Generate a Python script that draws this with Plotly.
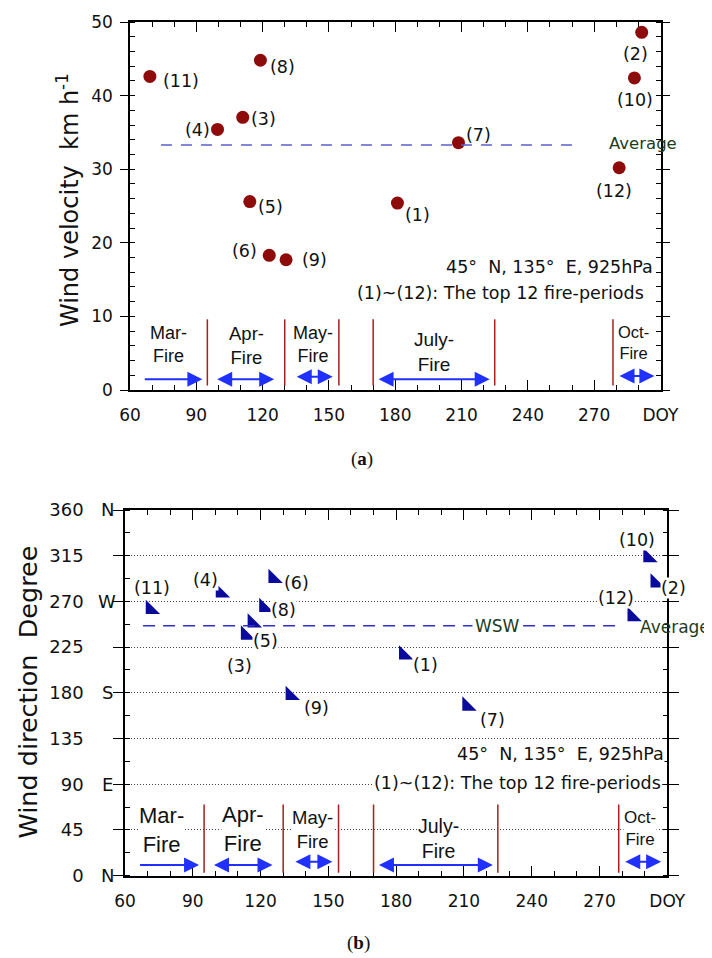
import plotly.graph_objects as go

# page is 712x958; the browser body has an 8px margin, so the figure starts at (8, 8)
PAGE_W, PAGE_H = 712, 958
OFFSET = 8
W, H = PAGE_W - OFFSET, PAGE_H - OFFSET

# ---------------- data ----------------
period_ids = list(range(1, 13))
doy_speed = [181, 291.5, 111, 99.6, 114.2, 123, 208.6, 119, 130.6, 288.2, 69, 281.3]
wind_speed = [25.4, 48.6, 37.05, 35.4, 25.6, 18.3, 33.6, 44.8, 17.7, 42.4, 42.6, 30.2]
avg_speed = 33.3

doy_dir = [183.4, 294.7, 113.4, 102.3, 116.4, 125.6, 211.4, 121.5, 133.2, 291.5, 71.3, 284.5]
wind_dir = [217.5, 288.4, 237.1, 278.5, 249, 292.8, 167.1, 264.2, 177.6, 313.4, 262.3, 255.3]
avg_dir = 246
avg_dir_name = "WSW"

fire_names = ["Mar", "Apr", "May", "July", "Oct"]
fire_boundaries = [95, 130, 154.5, 170, 225, 278.5]
arrow_start = [66, 97, 133, 170, 279]
arrow_end = [94.5, 127, 153.5, 224.5, 299]
arrow_both = [False, True, True, True, True]

x_ticks = [60, 90, 120, 150, 180, 210, 240, 270, 300]
x_ticktext = ["60", "90", "120", "150", "180", "210", "240", "270", "DOY"]
speed_ticks = [0, 10, 20, 30, 40, 50]
dir_ticks = [0, 45, 90, 135, 180, 225, 270, 315, 360]
compass_vals = [0, 90, 180, 270, 360]
compass_names = ["N", "E", "S", "W", "N"]

info_line1 = "45°\u00a0\u00a0N, 135°\u00a0\u00a0E, 925hPa"
info_line2 = "(1)~(12): The top 12 fire-periods"

# ---------------- styles / positions ----------------
SANS = "DejaVu Sans"
ARIAL = "Liberation Sans"
SERIF = "Liberation Serif"
BLACK = "#111111"
RED_MARK = "#8e0b0b"
BLUE_TRI = "#0a0a9c"
ARROW_BLUE = "#1f30ff"
BOUND_RED = "#a81e1e"
GREEN_TXT = "#1d3d1d"


def px(xp):
    return (xp - OFFSET) / W


def py(yp):
    return 1 - (yp - OFFSET) / H


DOM_A_X = [px(130), px(660.5)]
DOM_A_Y = [py(390), py(22)]
DOM_B_X = [px(125), px(667.3)]
DOM_B_Y = [py(875.7), py(510)]

# label offsets (pixels: dx right, dy down)
OFF_A = {1: (20, 12), 2: (-6, 22), 3: (21, 2), 4: (-20, 1), 5: (21, 5), 6: (-25, -4),
         7: (20, -8), 8: (22, 7), 9: (28, 0), 10: (1, 22), 11: (31, 5), 12: (-5, 23)}
OFF_B = {1: (22, 10), 2: (18, 5), 3: (-6, 31), 4: (-15, -13), 5: (13, 18), 6: (23, 5),
         7: (25, 14), 8: (20, 3), 9: (26, 13), 10: (-11, -17), 11: (1, -21), 12: (-16, -18)}

ARROW_Y_A = [1.45, 1.45, 1.8, 1.45, 1.9]
ARROW_Y_B = [10.5, 10.5, 13.8, 10.5, 13.8]
FIRE_LBL_A = [(77.5, 6.25, 18), (112.7, 6.07, 18.5), (142.6, 6.25, 18), (197.7, 5.16, 19), (287.6, 6.4, 16.5)]
FIRE_LBL_B = [(76.2, 44.7, 22), (112.3, 45.6, 22), (143, 45, 18.5), (198.6, 36.4, 19.5), (287.9, 46.4, 17)]
BOUND_Y_A = (0.6, 9.6)
BOUND_Y_B = (3, 70)

fig = go.Figure()

# ---------------- traces ----------------
fig.add_trace(go.Scatter(
    x=doy_speed, y=wind_speed, mode="markers", xaxis="x", yaxis="y",
    marker=dict(size=13, color=RED_MARK, line=dict(width=0)), showlegend=False, hoverinfo="skip"))

fig.add_trace(go.Scatter(
    x=doy_dir, y=wind_dir, mode="markers", xaxis="x2", yaxis="y2",
    marker=dict(symbol="triangle-sw", size=16, color=BLUE_TRI, line=dict(width=0)),
    showlegend=False, hoverinfo="skip"))

shapes = []
annotations = []

# average lines
shapes.append(dict(type="line", xref="x", yref="y", x0=74, x1=262, y0=avg_speed, y1=avg_speed,
                   line=dict(color="#5d5dcc", width=1.5, dash="11px,9px")))
shapes.append(dict(type="line", xref="x2", yref="y2", x0=68, x1=277.6, y0=avg_dir, y1=avg_dir,
                   line=dict(color="#3030cc", width=1.5, dash="12px,8px")))

# fire-period boundaries
for b in fire_boundaries:
    shapes.append(dict(type="line", xref="x", yref="y", x0=b, x1=b, y0=BOUND_Y_A[0], y1=BOUND_Y_A[1],
                       line=dict(color=BOUND_RED, width=1.5)))
    shapes.append(dict(type="line", xref="x2", yref="y2", x0=b, x1=b, y0=BOUND_Y_B[0], y1=BOUND_Y_B[1],
                       line=dict(color=BOUND_RED, width=1.5)))

# arrows
AW, AS = 2, 1.5
stand = 1.3 * AW * AS
for i in range(len(fire_names)):
    for xr, yr, ylev in (("x", "y", ARROW_Y_A[i]), ("x2", "y2", ARROW_Y_B[i])):
        annotations.append(dict(
            x=arrow_end[i], y=ylev, ax=arrow_start[i], ay=ylev, xref=xr, yref=yr, axref=xr, ayref=yr,
            text=" ", showarrow=True, arrowhead=2, arrowsize=AS, arrowwidth=AW, arrowcolor=ARROW_BLUE,
            startarrowhead=2, startarrowsize=AS,
            arrowside="end+start" if arrow_both[i] else "end",
            standoff=stand, startstandoff=stand if arrow_both[i] else 0,
            font=dict(size=1)))

# fire labels
for i, name in enumerate(fire_names):
    x, y, fs = FIRE_LBL_A[i]
    annotations.append(dict(x=x, y=y, xref="x", yref="y", text=f"{name}-<br>Fire", showarrow=False,
                            xanchor="center", yanchor="middle",
                            font=dict(family=ARIAL, size=fs, color=BLACK), bgcolor="white", borderpad=0))
    x, y, fs = FIRE_LBL_B[i]
    annotations.append(dict(x=x, y=y, xref="x2", yref="y2", text=f"{name}-<br>Fire", showarrow=False,
                            xanchor="center", yanchor="middle",
                            font=dict(family=ARIAL, size=fs, color=BLACK), bgcolor="white", borderpad=0))

# point labels
for k, pid in enumerate(period_ids):
    dx, dy = OFF_A[pid]
    annotations.append(dict(x=doy_speed[k], y=wind_speed[k], xref="x", yref="y", text=f"({pid})",
                            showarrow=False, xshift=dx, yshift=-dy, xanchor="center", yanchor="middle",
                            font=dict(family=SANS, size=17.5, color=BLACK)))
    dx, dy = OFF_B[pid]
    annotations.append(dict(x=doy_dir[k], y=wind_dir[k], xref="x2", yref="y2", text=f"({pid})",
                            showarrow=False, xshift=dx, yshift=-dy, bgcolor="white", borderpad=0,
                            xanchor="center", yanchor="middle",
                            font=dict(family=SANS, size=17.5, color=BLACK)))

# average texts
annotations.append(dict(x=275.7, y=avg_speed, xref="x", yref="y", text="Average", showarrow=False,
                        xanchor="left", yanchor="middle", yshift=1,
                        font=dict(family=SANS, size=16.5, color=GREEN_TXT)))
annotations.append(dict(x=287, y=avg_dir, xref="x2", yref="y2", text="Average", showarrow=False,
                        xanchor="left", yanchor="middle", yshift=-1,
                        font=dict(family=SANS, size=17, color=GREEN_TXT)))
annotations.append(dict(x=225, y=avg_dir, xref="x2", yref="y2", text=avg_dir_name, showarrow=False,
                        xanchor="center", yanchor="middle",
                        bgcolor="white", borderpad=2, font=dict(family=SANS, size=17, color=GREEN_TXT)))

# info texts
for (xr, yv, txt, bg) in ((655, 266.7, info_line1, None), (646, 292.7, info_line2, None),
                          (665, 754, info_line1, "white"), (661.7, 782.7, info_line2, "white")):
    a = dict(x=px(xr), y=py(yv), xref="paper", yref="paper", text=txt, showarrow=False,
             xanchor="right", yanchor="middle", font=dict(family=SANS, size=17.5, color=BLACK))
    if bg:
        a["bgcolor"] = bg
        a["borderpad"] = 0
    annotations.append(a)

# compass letters
for v, n in zip(compass_vals, compass_names):
    annotations.append(dict(x=px(107), y=v, xref="paper", yref="y2", text=n, showarrow=False,
                            xanchor="center", yanchor="middle",
                            font=dict(family=SANS, size=18, color=BLACK)))

# axis titles
annotations.append(dict(x=px(68), y=py(200), xref="paper", yref="paper",
                        text="Wind velocity\u00a0\u00a0km h<sup>-1</sup>", textangle=-90, showarrow=False,
                        xanchor="center", yanchor="middle",
                        font=dict(family=SANS, size=24, color=BLACK)))
annotations.append(dict(x=px(27), y=py(692.5), xref="paper", yref="paper",
                        text="Wind direction\u00a0\u00a0Degree", textangle=-90, showarrow=False,
                        xanchor="center", yanchor="middle",
                        font=dict(family=SANS, size=25.5, color=BLACK)))

# panel letters
annotations.append(dict(x=px(362), y=py(459), xref="paper", yref="paper", text="(<b>a</b>)",
                        showarrow=False, xanchor="center", yanchor="middle",
                        font=dict(family=SERIF, size=19, color=BLACK)))
annotations.append(dict(x=px(358), y=py(943), xref="paper", yref="paper", text="(<b>b</b>)",
                        showarrow=False, xanchor="center", yanchor="middle",
                        font=dict(family=SERIF, size=19, color=BLACK)))

tickfont = dict(family=SANS, size=17, color=BLACK)


def main_x(domain, anchor):
    return dict(domain=domain, anchor=anchor, range=[60, 300], tickvals=x_ticks, ticktext=x_ticktext,
                ticks="inside", ticklen=10, tickwidth=1.2, tickcolor="black", mirror="allticks",
                showline=True, linecolor="black", linewidth=1.5, showgrid=False, zeroline=False,
                tickfont=tickfont, ticklabelstandoff=9, automargin=False,
                minor=dict(ticks="inside", ticklen=5, tickwidth=1, tickcolor="black", dtick=10, tick0=60))


def over_x(domain, anchor, over):
    return dict(domain=domain, anchor=anchor, overlaying=over, range=[60, 300], tickvals=x_ticks,
                ticks="outside", ticklen=10, tickwidth=1.2, tickcolor="black", mirror="allticks",
                showticklabels=False, showline=False, showgrid=False, zeroline=False, automargin=False)


layout = dict(
    width=W, height=H, autosize=False,
    margin=dict(l=0, r=0, t=0, b=0, pad=0, autoexpand=False),
    paper_bgcolor="white", plot_bgcolor="white", showlegend=False,
    xaxis=main_x(DOM_A_X, "y"),
    yaxis=dict(domain=DOM_A_Y, anchor="x", range=[0, 50], tickvals=speed_ticks,
               ticks="outside", ticklen=8, tickwidth=1.2, tickcolor="black", mirror="allticks",
               showline=True, linecolor="black", linewidth=1.5, showgrid=False, zeroline=False,
               tickfont=tickfont, ticklabelstandoff=4, automargin=False,
               minor=dict(ticks="inside", ticklen=5, tickwidth=1, tickcolor="black", dtick=2, tick0=0)),
    xaxis2=main_x(DOM_B_X, "y2"),
    yaxis2=dict(domain=DOM_B_Y, anchor="x2", range=[0, 360], tickvals=dir_ticks,
                ticks="outside", ticklen=10, tickwidth=1.2, tickcolor="black", mirror="allticks",
                showline=True, linecolor="black", linewidth=1.5, showgrid=True, gridcolor="#444444",
                griddash="1px,2px", gridwidth=1, zeroline=False, automargin=False,
                tickfont=dict(family=SANS, size=18, color=BLACK), ticklabelstandoff=26,
                minor=dict(ticks="inside", ticklen=5, tickwidth=1, tickcolor="black", dtick=22.5, tick0=0,
                           showgrid=False)),
    xaxis3=over_x(DOM_A_X, "y", "x"),
    yaxis3=dict(domain=DOM_A_Y, anchor="x", overlaying="y", side="right", range=[0, 50],
                tickvals=speed_ticks, ticks="inside", ticklen=9, tickwidth=1.2, tickcolor="black",
                showticklabels=False, showline=False, showgrid=False, zeroline=False, automargin=False),
    xaxis4=over_x(DOM_B_X, "y2", "x2"),
    yaxis4=dict(domain=DOM_B_Y, anchor="x2", overlaying="y2", side="right", range=[0, 360],
                tickvals=dir_ticks, ticks="inside", ticklen=10, tickwidth=1.2, tickcolor="black",
                showticklabels=False, showline=False, showgrid=False, zeroline=False, automargin=False),
    shapes=shapes, annotations=annotations,
)
fig.update_layout(**layout)
fig.write_html("out.html")
